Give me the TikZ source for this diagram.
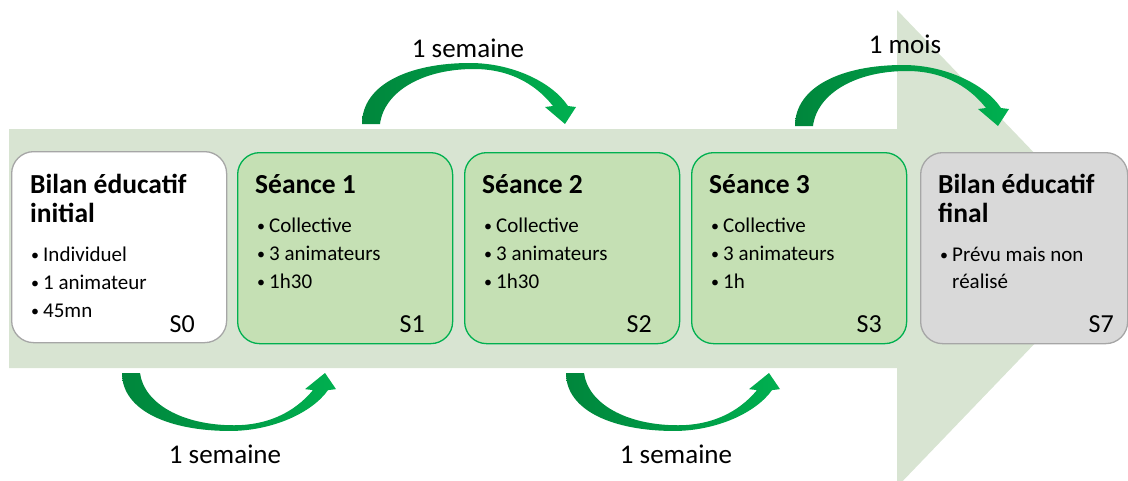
\documentclass[tikz,border=0pt]{standalone}
\usepackage{fontspec}
\setmainfont{Carlito}
\definecolor{band}{HTML}{D8E4D2}
\definecolor{gfill}{HTML}{C5E0B4}
\definecolor{gline}{HTML}{00B050}
\definecolor{greyfill}{HTML}{D9D9D9}
\definecolor{greyline}{HTML}{A6A6A6}
\definecolor{arrdark}{HTML}{00863C}
\definecolor{arrlight}{HTML}{00B050}

\newcommand\bentarrow[3]{%
  \begin{scope}[shift={(#1,#2)},yscale=#3]
    \shade[left color=arrdark,right color=arrlight]
      (0,0) .. controls (0,-40) and (48,-61) .. (108,-61)
      .. controls (150,-61) and (190,-42) .. (206,-18)
      -- (214,-17) -- (203,0) -- (183,-17) -- (191,-18)
      .. controls (172,-42) and (145,-55) .. (112,-55)
      .. controls (60,-55) and (22,-32) .. (18,0) -- cycle;
  \end{scope}}
\newcommand\itm[1]{\makebox[12pt][l]{\raisebox{0.5pt}{\fontsize{16}{16}\selectfont\textbullet}}#1}

\begin{document}
\begin{tikzpicture}[x=1pt,y=-1pt,
  box/.style={draw, rounded corners=22pt, line width=1.3pt, minimum width=215pt,
    minimum height=191pt, anchor=north west, inner sep=0pt},
  greenbox/.style={box, fill=gfill, draw=gline},
  whitebox/.style={box, fill=white, draw=greyline},
  greybox/.style={box, fill=greyfill, draw=greyline},
  title/.style={anchor=base west, inner sep=0pt, font=\fontsize{27.5}{30}\selectfont\bfseries},
  item/.style={anchor=base west, inner sep=0pt, font=\fontsize{21}{24}\selectfont},
  slabel/.style={anchor=base east, inner sep=0pt, font=\fontsize{26}{28}\selectfont},
  lbl/.style={anchor=base, inner sep=0pt, font=\fontsize{27}{30}\selectfont}]
\useasboundingbox (0,0) rectangle (1128,480);
\clip (0,0) rectangle (1128,480);

% big arrow
\fill[band] (9,129) -- (897,129) -- (897,10) -- (1126,248.5) -- (897,487)
  -- (897,368) -- (9,368) -- cycle;

% curved arrows
\bentarrow{362}{124}{1}
\bentarrow{795}{126}{1}
\bentarrow{122}{373}{-0.95}
\bentarrow{566}{373}{-0.95}

% labels
\node[lbl] (l1) at (468,57) {1 semaine};
\node[lbl] (l2) at (905,53) {1 mois};
\node[lbl] (l3) at (225,463) {1 semaine};
\node[lbl] (l4) at (676,463) {1 semaine};

% boxes
\node[whitebox] (b0) at (11,151) {};
\node[greenbox] (b1) at (237,152) {};
\node[greenbox] (b2) at (464,152) {};
\node[greenbox] (b3) at (691,152) {};
\node[greybox, minimum width=207pt] (b7) at (920,152) {};

% box 0
\node[title] (t0a) at (30,193) {Bilan éducatif};
\node[title] (t0b) at (30,222) {initial};
\node[item] (i0a) at (31,261) {\itm{Individuel}};
\node[item] (i0b) at (31,289) {\itm{1 animateur}};
\node[item] (i0c) at (31,317) {\itm{45mn}};
\node[slabel] (s0) at (195,332) {S0};

% box 1
\node[title] (t1) at (255,193) {Séance 1};
\node[item] (i1a) at (257,232) {\itm{Collective}};
\node[item] (i1b) at (257,260) {\itm{3 animateurs}};
\node[item] (i1c) at (257,288) {\itm{1h30}};
\node[slabel] (s1) at (425,332) {S1};

% box 2
\node[title] (t2) at (482,193) {Séance 2};
\node[item] (i2a) at (484,232) {\itm{Collective}};
\node[item] (i2b) at (484,260) {\itm{3 animateurs}};
\node[item] (i2c) at (484,288) {\itm{1h30}};
\node[slabel] (s2) at (652,332) {S2};

% box 3
\node[title] (t3) at (709,193) {Séance 3};
\node[item] (i3a) at (711,232) {\itm{Collective}};
\node[item] (i3b) at (711,260) {\itm{3 animateurs}};
\node[item] (i3c) at (711,288) {\itm{1h}};
\node[slabel] (s3) at (882,332) {S3};

% box 7
\node[title] (t7a) at (938,193) {Bilan éducatif};
\node[title] (t7b) at (938,222) {final};
\node[item] (i7a) at (940,261) {\itm{Prévu mais non}};
\node[item] (i7b) at (952,288) {réalisé};
\node[slabel] (s7) at (1114,332) {S7};
\end{tikzpicture}
\end{document}
